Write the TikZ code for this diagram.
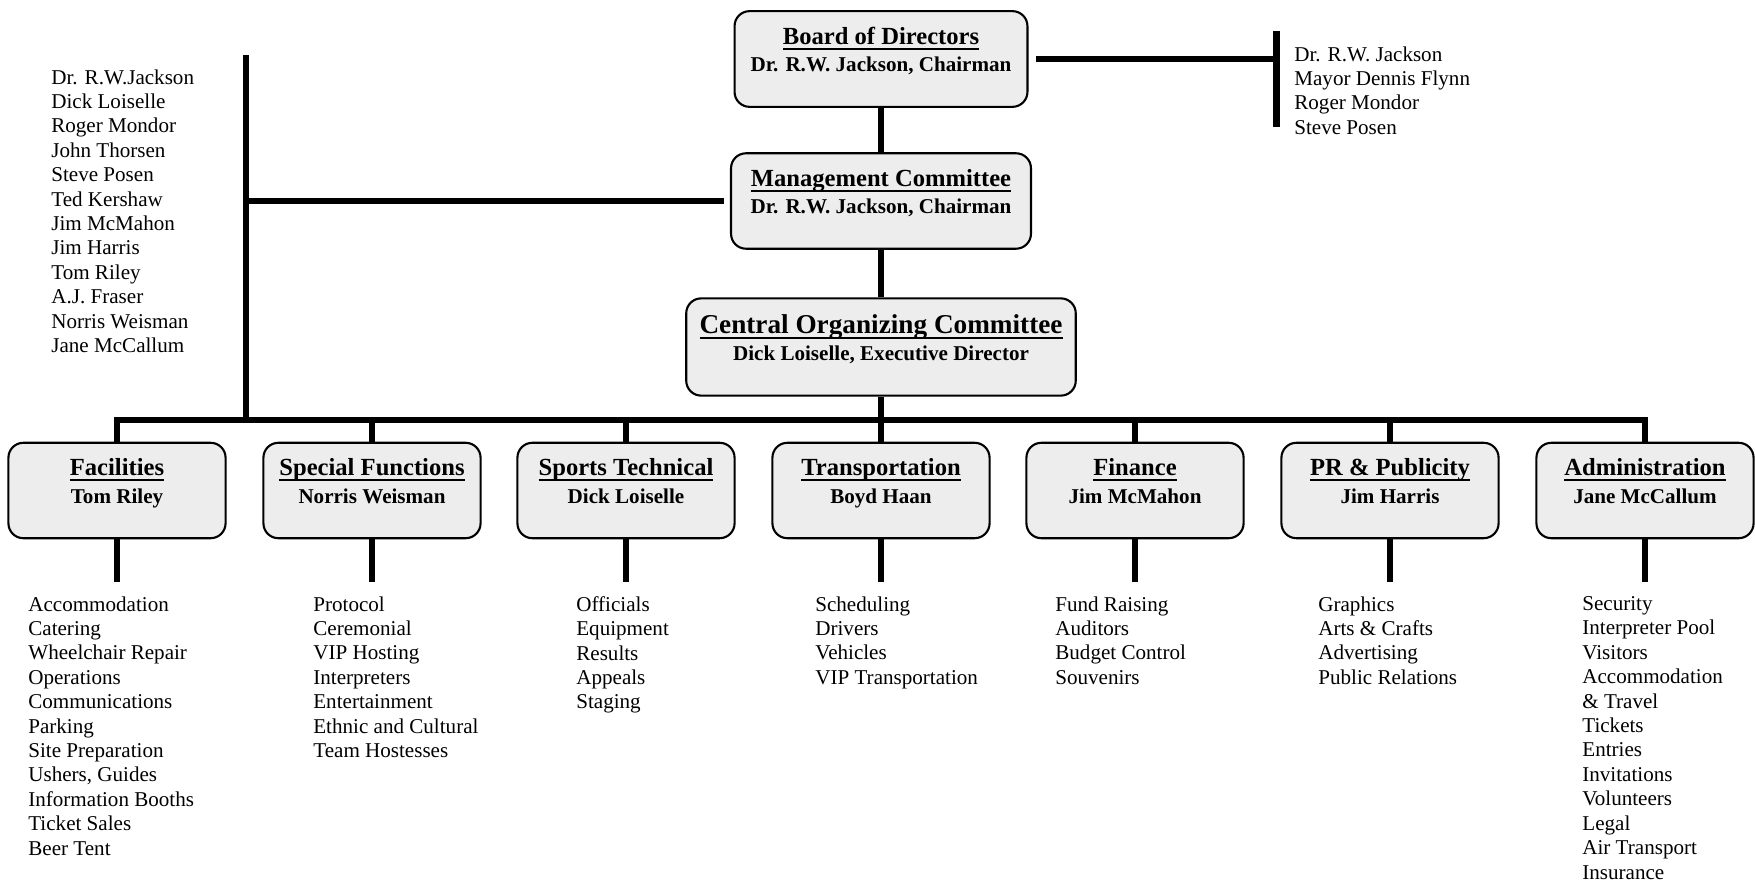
\documentclass[tikz,border=0pt]{standalone}
\usepackage{fontspec}
\setmainfont{Liberation Serif}
\usetikzlibrary{positioning}
\newcommand{\unithead}[2][14]{{\fontsize{#1}{17}\selectfont\setbox0\hbox{#2}\leavevmode\rlap{\copy0}\raisebox{-3.2pt}{\rule{\wd0}{1.1pt}}}}
\tikzstyle{unit}=[draw,line width=1.2pt,rounded corners=8.5pt,fill=black!7,align=center,inner xsep=2pt,inner ysep=9pt,text depth=11pt,font=\bfseries\fontsize{12}{15.6}\selectfont]
\tikzstyle{dept}=[unit,minimum width=123.6pt]
\tikzstyle{link}=[draw,line width=3pt]
\tikzstyle{roster}=[anchor=north west,align=left,inner xsep=0pt,inner ysep=8pt,font=\fontsize{12}{13.9}\selectfont]

\begin{document}
\begin{tikzpicture}[x=0.02cm,y=-0.02cm]
\useasboundingbox (0,0) rectangle (1755,895);

% committees
\node[unit,minimum width=166.7pt] (board) at (881,59) {\unithead{Board of Directors}\\Dr. R.W. Jackson, Chairman};
\node[unit,minimum width=170.7pt] (mgmt) at (881,201) {\unithead{Management Committee}\\Dr. R.W. Jackson, Chairman};
\node[unit,minimum width=221.7pt] (coc) at (881,347) {\unithead[15.5]{Central Organizing Committee}\\Dick Loiselle, Executive Director};

\node[roster] (board-list) at (1294,32) {Dr. R.W. Jackson\\Mayor Dennis Flynn\\Roger Mondor\\Steve Posen};
\node[roster] (mgmt-list) at (51,55) {Dr. R.W.Jackson\\Dick Loiselle\\Roger Mondor\\John Thorsen\\Steve Posen\\Ted Kershaw\\Jim McMahon\\Jim Harris\\Tom Riley\\A.J. Fraser\\Norris Weisman\\Jane McCallum};

\coordinate (bus) at (0,420);
\coordinate (boardbar) at (1276,31);
\coordinate (boardbarend) at (1276,127);
\coordinate (mgmtbar) at (246,55);

% departments
\foreach \x/\name/\head/\chief in {117/facil/Facilities/Tom Riley, 372/special/Special Functions/Norris Weisman, 626/sports/Sports Technical/Dick Loiselle, 881/trans/Transportation/Boyd Haan, 1135/finance/Finance/Jim McMahon, 1390/pr/PR \& Publicity/Jim Harris, 1645/admin/Administration/Jane McCallum}
    \node[dept] (\name) at (\x,490.5) {\unithead{\head}\\\chief};

\foreach \x/\name/\items in {
    28/facil/{Accommodation\\Catering\\Wheelchair Repair\\Operations\\Communications\\Parking\\Site Preparation\\Ushers, Guides\\Information Booths\\Ticket Sales\\Beer Tent},
    313/special/{Protocol\\Ceremonial\\VIP Hosting\\Interpreters\\Entertainment\\Ethnic and Cultural\\Team Hostesses},
    576/sports/{Officials\\Equipment\\Results\\Appeals\\Staging},
    815/trans/{Scheduling\\Drivers\\Vehicles\\VIP Transportation},
    1055/finance/{Fund Raising\\Auditors\\Budget Control\\Souvenirs},
    1318/pr/{Graphics\\Arts \& Crafts\\Advertising\\Public Relations},
    1582/admin/{Security\\Interpreter Pool\\Visitors\\Accommodation\\\& Travel\\Tickets\\Entries\\Invitations\\Volunteers\\Legal\\Air Transport\\Insurance}}
    \node[roster] (\name-list) at (\x,582) {\items};

% connectors
\draw[link] (board) -- (mgmt);
\draw[link] (mgmt) -- (coc);
\draw[link] (coc) -- (trans);
\draw[link] (facil) -- (facil |- bus) -- (admin |- bus) -- (admin);
\foreach \name in {special,sports,finance,pr}
    \draw[link] (\name) -- (\name |- bus);
\foreach \name in {facil,special,sports,trans,finance,pr,admin}
    \draw[link] (\name) -- (\name |- \name-list.north);

\draw[link] (mgmtbar) -- (mgmtbar |- bus);
\draw[link,shorten <=3.5pt] (mgmt) -- (mgmt -| mgmtbar);
\draw[link,shorten <=4.5pt] (board) -- (board -| boardbar);
\draw[line width=4pt] (boardbar) -- (boardbarend);
\end{tikzpicture}
\end{document}
